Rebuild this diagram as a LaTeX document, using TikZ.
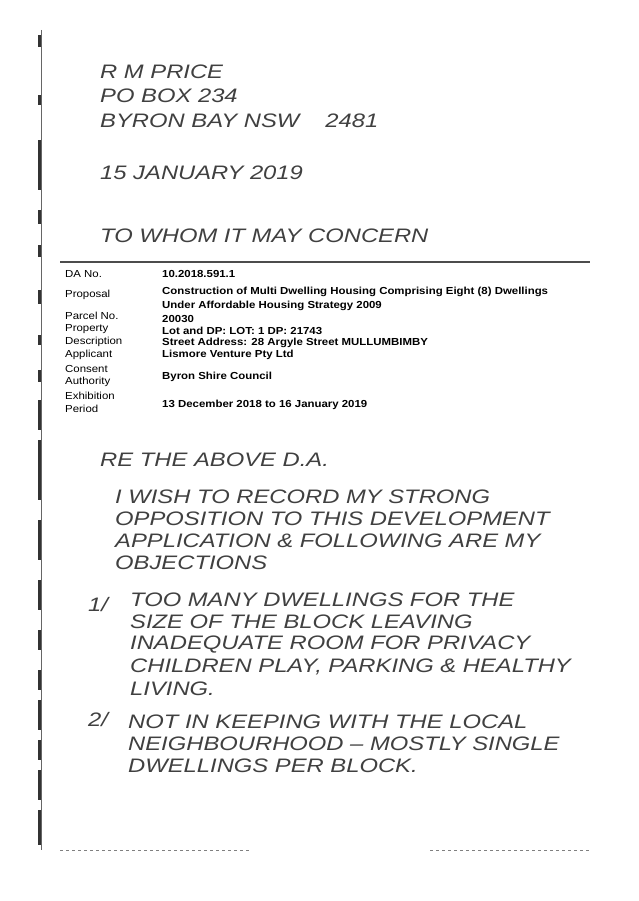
\documentclass[tikz,border=0pt]{standalone}
\usepackage{fontspec}
\setmainfont{Liberation Sans}
\newfontfamily\handfont[FakeStretch=1.22,Ligatures=TeX]{Liberation Sans}
\newfontfamily\tabfont[FakeStretch=1.12,Ligatures=TeX]{Liberation Sans}
\usetikzlibrary{positioning}
\tikzset{
  hand/.style={anchor=west,inner sep=0pt,font=\handfont\fontsize{19.5}{20}\selectfont\itshape,text=black!75},
  lbl/.style={anchor=west,inner sep=0pt,font=\tabfont\fontsize{10.2}{10}\selectfont},
  val/.style={anchor=west,inner sep=0pt,font=\tabfont\fontsize{10.2}{10}\selectfont\bfseries},
  edgemark/.style={fill=black!80}
}
\begin{document}
\begin{tikzpicture}[x=1pt,y=-1pt]
\useasboundingbox (0,0) rectangle (638,901);

% sender
\node[hand] (name) at (100,72) {R M PRICE};
\node[hand] (box) at (100,96) {PO BOX 234};
\node[hand] (town) at (100,121) {BYRON BAY NSW \quad 2481};
\node[hand] (date) at (100,173) {15 JANUARY 2019};
\node[hand] (whom) at (100,236) {TO WHOM IT MAY CONCERN};

% header table
\draw[line width=1.2pt,black!70] (60,262) -- (590,262);
\node[lbl] (dano) at (65,274) {DA No.};
\node[lbl] (prop) at (65,295) {Proposal};
\node[lbl] (parcel) at (65,316) {Parcel No.};
\node[lbl] (property) at (65,329) {Property};
\node[lbl] (descr) at (65,342) {Description};
\node[lbl] (appl) at (65,355) {Applicant};
\node[lbl] (consent) at (65,369) {Consent};
\node[lbl] (auth) at (65,382) {Authority};
\node[lbl] (exhib) at (65,396) {Exhibition};
\node[lbl] (period) at (65,409) {Period};

\node[val] (dav) at (162,274) {10.2018.591.1};
\node[val] (propa) at (162,292) {Construction of Multi Dwelling Housing Comprising Eight (8) Dwellings};
\node[val] (propb) at (162,306) {Under Affordable Housing Strategy 2009};
\node[val] (parv) at (162,319) {20030};
\node[val] (lotv) at (162,331) {Lot and DP: LOT: 1 DP: 21743};
\node[val] (strv) at (162,343) {Street Address: 28 Argyle Street MULLUMBIMBY};
\node[val] (appv) at (162,355) {Lismore Venture Pty Ltd};
\node[val] (authv) at (162,377) {Byron Shire Council};
\node[val] (perv) at (162,405) {13 December 2018 to 16 January 2019};

% letter body
\node[hand] (re) at (100,460) {RE THE ABOVE D.A.};
\node[hand] (wa) at (115,497) {I WISH TO RECORD MY STRONG};
\node[hand] (wb) at (115,519) {OPPOSITION TO THIS DEVELOPMENT};
\node[hand] (wc) at (115,541) {APPLICATION \& FOLLOWING ARE MY};
\node[hand] (wd) at (115,563) {OBJECTIONS};

\node[hand] (one) at (88,605) {1/};
\node[hand] (oa) at (130,600) {TOO MANY DWELLINGS FOR THE};
\node[hand] (ob) at (130,622) {SIZE OF THE BLOCK LEAVING};
\node[hand] (oc) at (130,645) {INADEQUATE ROOM FOR PRIVACY};
\node[hand] (od) at (130,667) {CHILDREN PLAY, PARKING \& HEALTHY};
\node[hand] (oe) at (130,689) {LIVING.};

\node[hand] (two) at (88,720) {2/};
\node[hand] (ta) at (128,722) {NOT IN KEEPING WITH THE LOCAL};
\node[hand] (tb) at (128,744) {NEIGHBOURHOOD – MOSTLY SINGLE};
\node[hand] (tc) at (128,766) {DWELLINGS PER BLOCK.};

% scan marks on the left edge
\foreach \y/\h in {35/12,95/10,140/50,210/14,245/12,290/14,335/10,370/12,400/30,440/60,520/40,580/30,630/20,670/20,700/30,740/20,770/30,810/35}
  \fill[edgemark] (38,\y) rectangle (42,\y+\h);
\draw[black!60] (41,30) -- (41,850);
\draw[black!50,dashed] (60,850) -- (250,850);
\draw[black!50,dashed] (430,850) -- (590,850);
\end{tikzpicture}
\end{document}
